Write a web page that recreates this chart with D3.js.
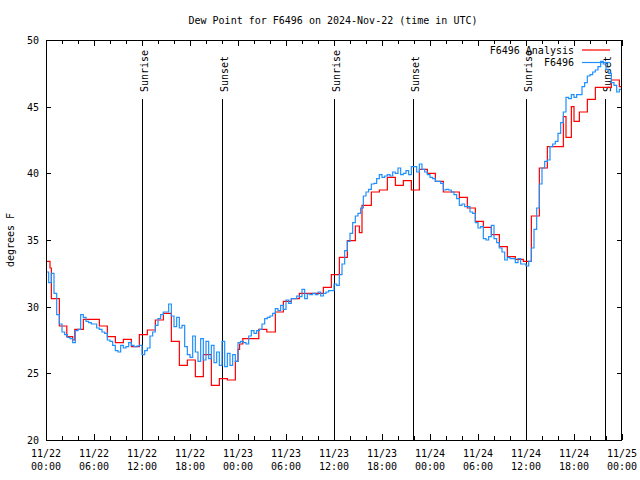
<!DOCTYPE html>
<html><head><meta charset="utf-8">
<script src="https://cdn.jsdelivr.net/npm/d3@7"></script>
<style>
body{margin:0;background:#fff}
svg{display:block}
text{font-family:"DejaVu Sans Mono","Liberation Mono",monospace;font-size:10px;fill:#000}
</style>
</head><body>
<svg id="chart" width="640" height="480"></svg>
<script>
// ---------- data ----------
const title = "Dew Point for F6496 on 2024-Nov-22 (time in UTC)";
const yLabel = "degrees F";
const seriesNames = ["F6496 Analysis", "F6496"];
const seriesColors = ["#ff0000", "#1e90ff"];
const yTicks = [20, 25, 30, 35, 40, 45, 50];
const xTickHours = [0, 6, 12, 18, 24, 30, 36, 42, 48, 54, 60, 66, 72];
const xTickDates = ["11/22","11/22","11/22","11/22","11/23","11/23","11/23","11/23","11/24","11/24","11/24","11/24","11/25"];
const xTickTimes = ["00:00","06:00","12:00","18:00","00:00","06:00","12:00","18:00","00:00","06:00","12:00","18:00","00:00"];
const sunriseHours = [12.02, 36.0, 60.04];
const sunsetHours = [22.0, 45.92, 69.9];

// analysis (hourly steps): hour at which each value starts
const redHours = [0,0.5,0.67,1.67,2.6,3.33,3.6,4.67,6.67,7.67,
  8.67,9.67,10.67,11.67,12.67,13.67,14.67,15.67,16.67,17.67,
  18.67,19.67,20.67,21.67,22.67,23.67,24.0,24.2,24.6,26.6,
  27.6,28.67,29.67,30.67,31.67,34.67,35.67,36.67,37.67,38.67,
  39.17,39.5,40.67,41.67,42.67,43.67,44.67,45.67,46.67,47.67,
  48.67,49.67,51.67,52.67,53.67,54.67,55.67,56.67,57.67,58.67,
  59.67,60.67,61.67,62.67,64.67,65.0,65.67,66.0,66.67,67.67,
  68.67,70.67,71.67,72];
const redDew = [33.4,32.9,30.6,28.55,27.75,27.5,28.3,29.05,28.55,27.75,
  27.3,27.55,27.0,27.9,28.25,29.0,29.5,27.4,25.6,26.0,
  24.75,26.4,24.1,24.6,24.5,25.9,26.8,27.2,27.6,28.3,
  28.1,29.6,30.4,30.6,31.0,31.45,32.4,33.7,34.95,36.05,
  35.55,37.6,38.6,38.75,39.7,39.1,39.45,38.75,40.3,40.0,
  39.4,38.6,38.2,37.4,36.4,35.95,35.4,34.5,33.75,33.55,
  33.4,36.8,40.4,42.0,44.25,42.7,45.0,43.9,44.6,45.55,
  46.45,47.0,46.5,46.5];

// observations, one value every 20 minutes from 11/22 00:00
const blueStepHours = 1/3;
const blueDew = [
  32.6,31.8,32.5, 31.0,29.4,28.7, 28.1,27.9,27.7, 27.6,27.3,28.2,
  28.3,29.4,29.2, 28.9,28.8,28.7, 28.7,28.4,28.3, 28.1,28.0,27.5,
  27.4,27.1,26.7, 26.6,27.1,26.9, 27.0,27.3,27.1, 27.0,27.05,27.1,
  26.4,26.7,26.9, 27.8,28.1,28.6, 29.1,29.4,29.6, 29.6,30.2,29.3,
  28.5,29.2,28.4, 28.6,27.0,26.4, 26.2,27.8,26.6, 25.9,27.6,26.0,
  27.4,26.1,27.1, 25.8,26.6,25.6, 27.4,25.5,26.5, 25.6,26.4,25.9,
  27.3,27.4,27.3, 27.2,27.8,28.2, 28.0,28.2,28.3, 28.7,29.1,29.2,
  29.3,29.5,29.85, 29.7,30.1,29.8, 30.5,30.25,30.6, 30.6,30.8,30.75,
  31.3,30.6,30.95, 30.9,31.0,30.9, 31.1,30.8,31.0, 31.1,31.2,31.2,
  31.7,31.6,32.4, 33.2,34.2,34.9, 35.5,36.3,36.8, 37.0,37.4,38.3,
  38.6,38.8,39.2, 39.25,39.6,39.9, 39.7,39.8,39.9, 39.8,40.1,40.0,
  40.4,39.9,40.0, 40.2,39.9,40.5, 40.5,40.1,40.7, 40.3,40.1,39.9,
  39.7,39.6,39.4, 39.4,39.25,38.75, 38.8,38.75,38.6, 38.4,38.1,37.6,
  37.7,37.5,37.5, 37.1,37.0,36.3, 35.9,36.0,35.1, 35.0,35.25,36.1,
  35.1,34.8,34.4, 34.1,33.5,33.7, 33.6,33.6,33.3, 33.6,33.2,33.2,
  33.05,33.4,34.4, 35.8,37.4,39.2, 40.4,40.9,41.0, 42.0,42.2,42.4,
  43.0,43.8,44.6, 45.7,45.6,45.9, 45.7,45.9,45.9, 46.5,46.8,47.3,
  47.4,47.6,47.75, 48.0,48.4,48.2, 47.8,47.5,46.8, 46.6,46.1,46.3,
  46.2];

// ---------- layout ----------
const L = 46, R = 622, T = 40, B = 440;
const svg = d3.select("#chart");
const x = d3.scaleLinear().domain([0, 72]).range([L, R]);
const y = d3.scaleLinear().domain([20, 50]).range([B, T]);

svg.append("defs").append("clipPath").attr("id","clip")
  .append("rect").attr("x",L).attr("y",T).attr("width",R-L).attr("height",B-T);

// title
svg.append("text").attr("x", 333).attr("y", 24).attr("text-anchor","middle").text(title);

// y label
svg.append("text").attr("transform","translate(14,240) rotate(-90)")
  .attr("text-anchor","middle").text(yLabel);

// ticks
const g = svg.append("g").attr("shape-rendering","crispEdges").attr("stroke","#000");
const minorHours = d3.range(0, 73, 2);
minorHours.forEach(h => {
  const px = Math.round(x(h)) + 0.5;
  g.append("line").attr("x1",px).attr("x2",px).attr("y1",B).attr("y2",B-4);
  g.append("line").attr("x1",px).attr("x2",px).attr("y1",T).attr("y2",T+4);
});
xTickHours.forEach(h => {
  const px = Math.round(x(h)) + 0.5;
  g.append("line").attr("x1",px).attr("x2",px).attr("y1",B).attr("y2",B-6);
  g.append("line").attr("x1",px).attr("x2",px).attr("y1",T).attr("y2",T+6);
});
yTicks.forEach(v => {
  const py = Math.round(y(v)) + 0.5;
  g.append("line").attr("x1",L).attr("x2",L+5).attr("y1",py).attr("y2",py);
  g.append("line").attr("x1",R-5).attr("x2",R).attr("y1",py).attr("y2",py);
});

// tick labels
yTicks.forEach(v => {
  svg.append("text").attr("x", 39).attr("y", y(v) + 4).attr("text-anchor","end").text(v);
});
xTickHours.forEach((h, i) => {
  svg.append("text").attr("x", x(h)).attr("y", 457).attr("text-anchor","middle").text(xTickDates[i]);
  svg.append("text").attr("x", x(h)).attr("y", 470).attr("text-anchor","middle").text(xTickTimes[i]);
});

// sunrise / sunset
const sunEvents = sunriseHours.map(h => ({h, label:"Sunrise"}))
  .concat(sunsetHours.map(h => ({h, label:"Sunset"})));
sunEvents.forEach(e => {
  const px = Math.round(x(e.h)) + 0.5;
  svg.append("line").attr("x1",px).attr("x2",px).attr("y1",B).attr("y2",99)
    .attr("stroke","#000").attr("shape-rendering","crispEdges");
  svg.append("text").attr("transform",`translate(${px+5},92) rotate(-90)`)
    .attr("text-anchor","start").text(e.label);
});

// series
const redData = redHours.map((h, i) => [h, redDew[i]]);
const blueData = blueDew.map((v, i) => [i * blueStepHours, v]);
const line = d3.line().x(d => x(d[0])).y(d => y(d[1])).curve(d3.curveStepAfter);
const plot = svg.append("g").attr("clip-path","url(#clip)");
plot.append("path").datum(redData).attr("d", line).attr("fill","none")
  .attr("stroke", seriesColors[0]).attr("stroke-width",1.2);
plot.append("path").datum(blueData).attr("d", line).attr("fill","none")
  .attr("stroke", seriesColors[1]).attr("stroke-width",1.2);

// legend
seriesNames.forEach((name, i) => {
  const ly = 50 + i * 12.5;
  svg.append("text").attr("x", 574).attr("y", ly + 3.5).attr("text-anchor","end").text(name);
  svg.append("line").attr("x1",582).attr("x2",610).attr("y1",ly).attr("y2",ly)
    .attr("stroke", seriesColors[i]).attr("stroke-width",1.2);
});

// border
svg.append("rect").attr("x",L+0.5).attr("y",T+0.5).attr("width",R-L-1).attr("height",B-T)
  .attr("fill","none").attr("stroke","#000").attr("shape-rendering","crispEdges");
</script>
</body></html>
